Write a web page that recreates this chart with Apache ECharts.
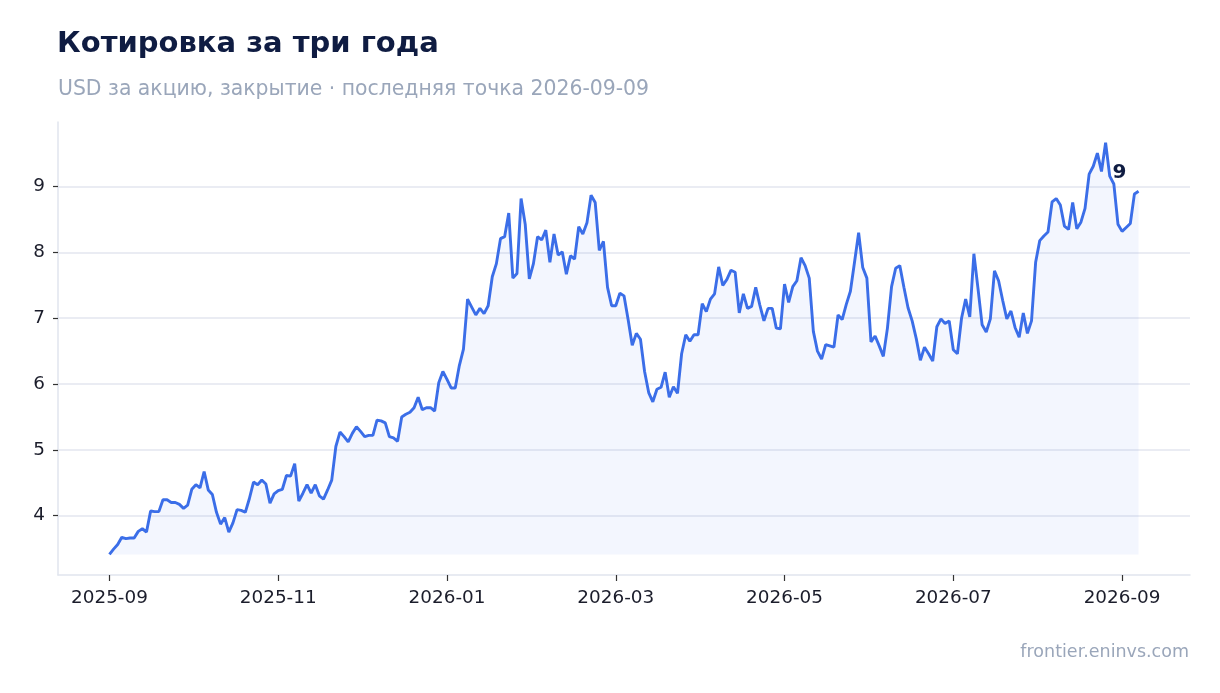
<!DOCTYPE html>
<html>
<head>
<meta charset="utf-8">
<title>Котировка за три года</title>
<script src="https://cdn.jsdelivr.net/npm/echarts@6/dist/echarts.min.js"></script>
<style>
  html, body { margin: 0; padding: 0; background: #fff; }
  #chart { width: 1220px; height: 693px; }
</style>
</head>
<body>
<div id="chart"></div>
<script>
// цены закрытия, по одной точке на торговый шаг
var closes = [
  3.41, 3.49, 3.56, 3.67, 3.65, 3.66, 3.66, 3.76, 3.80, 3.75, 4.07, 4.06, 4.06, 4.24, 4.24, 4.20, 4.20, 4.17, 4.11, 4.16,
  4.40, 4.47, 4.42, 4.67, 4.39, 4.32, 4.05, 3.87, 3.97, 3.75, 3.89, 4.09, 4.08, 4.05, 4.26, 4.51, 4.47, 4.54, 4.48, 4.19,
  4.33, 4.38, 4.40, 4.61, 4.60, 4.79, 4.22, 4.34, 4.47, 4.34, 4.47, 4.30, 4.25, 4.39, 4.54, 5.05, 5.27, 5.20, 5.12, 5.25,
  5.35, 5.28, 5.20, 5.22, 5.22, 5.45, 5.44, 5.41, 5.20, 5.18, 5.13, 5.50, 5.54, 5.57, 5.64, 5.80, 5.61, 5.64, 5.64, 5.59,
  6.02, 6.19, 6.07, 5.94, 5.94, 6.28, 6.53, 7.29, 7.17, 7.05, 7.15, 7.07, 7.19, 7.63, 7.83, 8.21, 8.24, 8.60, 7.61, 7.68,
  8.82, 8.43, 7.60, 7.83, 8.24, 8.19, 8.34, 7.85, 8.28, 7.96, 8.01, 7.67, 7.95, 7.90, 8.39, 8.28, 8.45, 8.87, 8.76, 8.03,
  8.17, 7.47, 7.19, 7.19, 7.38, 7.34, 6.98, 6.59, 6.77, 6.68, 6.19, 5.87, 5.73, 5.92, 5.95, 6.18, 5.80, 5.96, 5.86, 6.46,
  6.75, 6.65, 6.75, 6.75, 7.22, 7.10, 7.29, 7.37, 7.78, 7.50, 7.59, 7.73, 7.70, 7.08, 7.37, 7.15, 7.18, 7.47, 7.20, 6.96,
  7.15, 7.15, 6.85, 6.84, 7.52, 7.24, 7.48, 7.57, 7.92, 7.80, 7.61, 6.80, 6.50, 6.38, 6.60, 6.58, 6.56, 7.05, 6.98, 7.21,
  7.41, 7.85, 8.30, 7.77, 7.61, 6.64, 6.73, 6.58, 6.42, 6.85, 7.48, 7.76, 7.80, 7.47, 7.16, 6.96, 6.69, 6.36, 6.56, 6.46,
  6.35, 6.87, 6.99, 6.92, 6.96, 6.52, 6.46, 7.00, 7.29, 7.02, 7.98, 7.45, 6.90, 6.79, 6.99, 7.72, 7.57, 7.27, 6.99, 7.11,
  6.86, 6.71, 7.08, 6.77, 6.96, 7.85, 8.18, 8.25, 8.31, 8.77, 8.82, 8.72, 8.40, 8.35, 8.76, 8.36, 8.46, 8.67, 9.19, 9.31,
  9.51, 9.23, 9.67, 9.16, 9.04, 8.43, 8.32, 8.38, 8.44, 8.89, 8.93
];
// подписи оси X: каждые два месяца, шаг в точках
var tickLabels = ['2025-09', '2025-11', '2026-01', '2026-03', '2026-05', '2026-07', '2026-09'];
var tickEvery = 41;
var yTicks = [4, 5, 6, 7, 8, 9];

var FONT = 'DejaVu Sans';
var lineColor = '#3b6ee8';

var points = closes.map(function (v, i) { return [i, v]; });
var lastIdx = closes.length - 1;
var lo = Math.min.apply(null, closes);
var hi = Math.max.apply(null, closes);
var pad = (hi - lo) * 0.05;
var xTickPos = tickLabels.map(function (_, k) { return k * tickEvery; });

var chart = echarts.init(document.getElementById('chart'));
var option = {
    backgroundColor: '#fff',
    animation: false,
    title: [{
        text: 'Котировка за три года',
        left: 57, top: 30, padding: 0,
        textStyle: { fontFamily: FONT, fontSize: 29, fontWeight: 'bold', color: '#0f1c42' }
    }, {
        text: 'USD за акцию, закрытие · последняя точка 2026-09-09',
        left: 58, top: 80, padding: 0,
        textStyle: { fontFamily: FONT, fontSize: 20.4, fontWeight: 'normal', color: '#9aa6ba' }
    }],
    graphic: [{
        type: 'text',
        right: 31, top: 643,
        style: { text: 'frontier.eninvs.com', font: '17.5px "DejaVu Sans"', fill: '#9aa6ba' }
    }],
    grid: { left: 58, right: 30, top: 122, bottom: 118 },
    xAxis: {
        type: 'value',
        min: -lastIdx * 0.05,
        max: lastIdx * 1.05,
        axisLine: { show: true, onZero: false, lineStyle: { color: '#e1e5ee', width: 1.5 } },
        axisTick: { show: true, length: 6, customValues: xTickPos, lineStyle: { color: '#333', width: 1.2 } },
        axisLabel: {
            customValues: xTickPos,
            margin: 14,
            fontFamily: FONT, fontSize: 18.4, color: '#1b1d2b',
            formatter: function (v) { return tickLabels[Math.round(v / tickEvery)]; }
        },
        splitLine: { show: false }
    },
    yAxis: {
        type: 'value',
        min: lo - pad,
        max: hi + pad,
        axisLine: { show: true, onZero: false, lineStyle: { color: '#e1e5ee', width: 1.5 } },
        axisTick: { show: true, length: 5, customValues: yTicks, lineStyle: { color: '#333', width: 1.2 } },
        axisLabel: {
            customValues: yTicks,
            margin: 13,
            fontFamily: FONT, fontSize: 18.4, color: '#1b1d2b'
        },
        splitLine: { show: true, lineStyle: { color: '#e3e6ef', width: 1.5 } }
    },
    series: [{
        type: 'line',
        data: points,
        symbol: 'none',
        lineStyle: { color: lineColor, width: 2.9 },
        itemStyle: { color: lineColor },
        areaStyle: { origin: lo, color: 'rgba(59,110,232,0.09)' },
        markPoint: {
            symbol: 'circle', symbolSize: 0,
            data: [{ coord: [lastIdx, closes[lastIdx]], value: Math.round(closes[lastIdx]) }],
            label: {
                show: true, offset: [-19, -18],
                fontFamily: FONT, fontSize: 20, fontWeight: 'bold', color: '#0f1c42',
                formatter: function (p) { return p.value; }
            }
        }
    }]
};
chart.setOption(option);
</script>
</body>
</html>
